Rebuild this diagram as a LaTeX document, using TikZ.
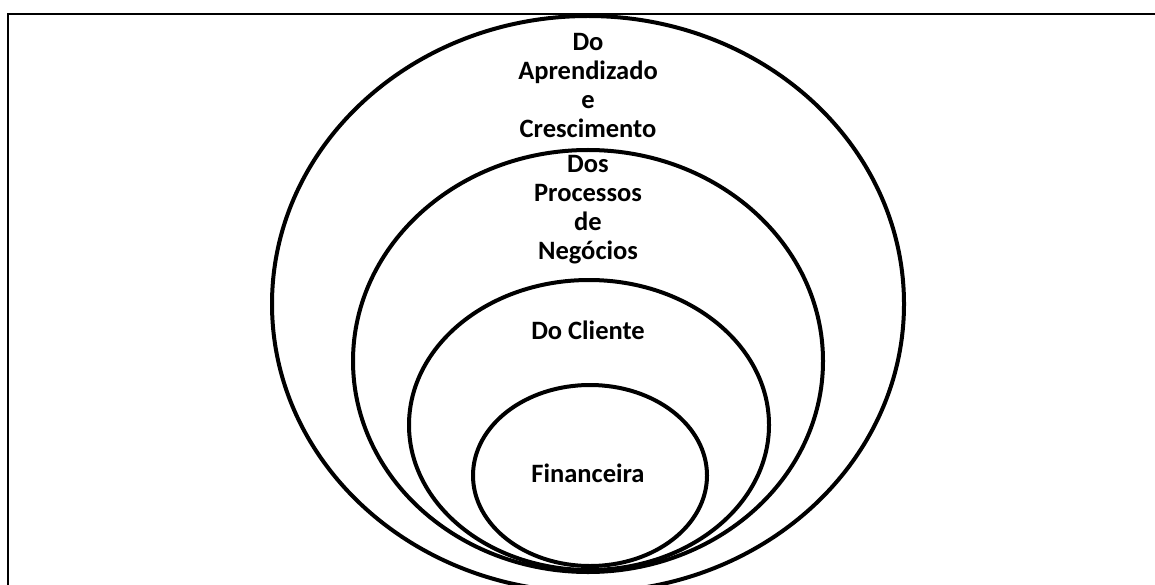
\documentclass[tikz,border=0pt]{standalone}
\usepackage{fontspec}
\setmainfont{Carlito}
\begin{document}
\begin{tikzpicture}[x=1pt,y=-1pt,
  ring/.style={line width=4pt, black},
  frameline/.style={line width=2pt, black},
  lbl/.style={align=center, inner sep=0pt, font=\fontsize{26.5}{29}\selectfont\bfseries}]
\useasboundingbox (0,0) rectangle (1155,585);
\draw[frameline] (8,600) -- (8,14) -- (1170,14);
% rings
\draw[ring] (588,304) ellipse [x radius=316, y radius=288];
\draw[ring] (588,361) ellipse [x radius=235, y radius=211];
\draw[ring] (589,425) ellipse [x radius=180, y radius=145];
\draw[ring] (590,475.5) ellipse [x radius=117, y radius=90.5];
% labels
\node[lbl] (aprend) at (588,86) {Do\\Aprendizado\\e\\Crescimento};
\node[lbl] (proc) at (588,210) {Dos\\Processos\\de\\Negócios};
\node[lbl] (cli) at (588,330) {Do Cliente};
\node[lbl] (fin) at (588,473) {Financeira};
\end{tikzpicture}
\end{document}
